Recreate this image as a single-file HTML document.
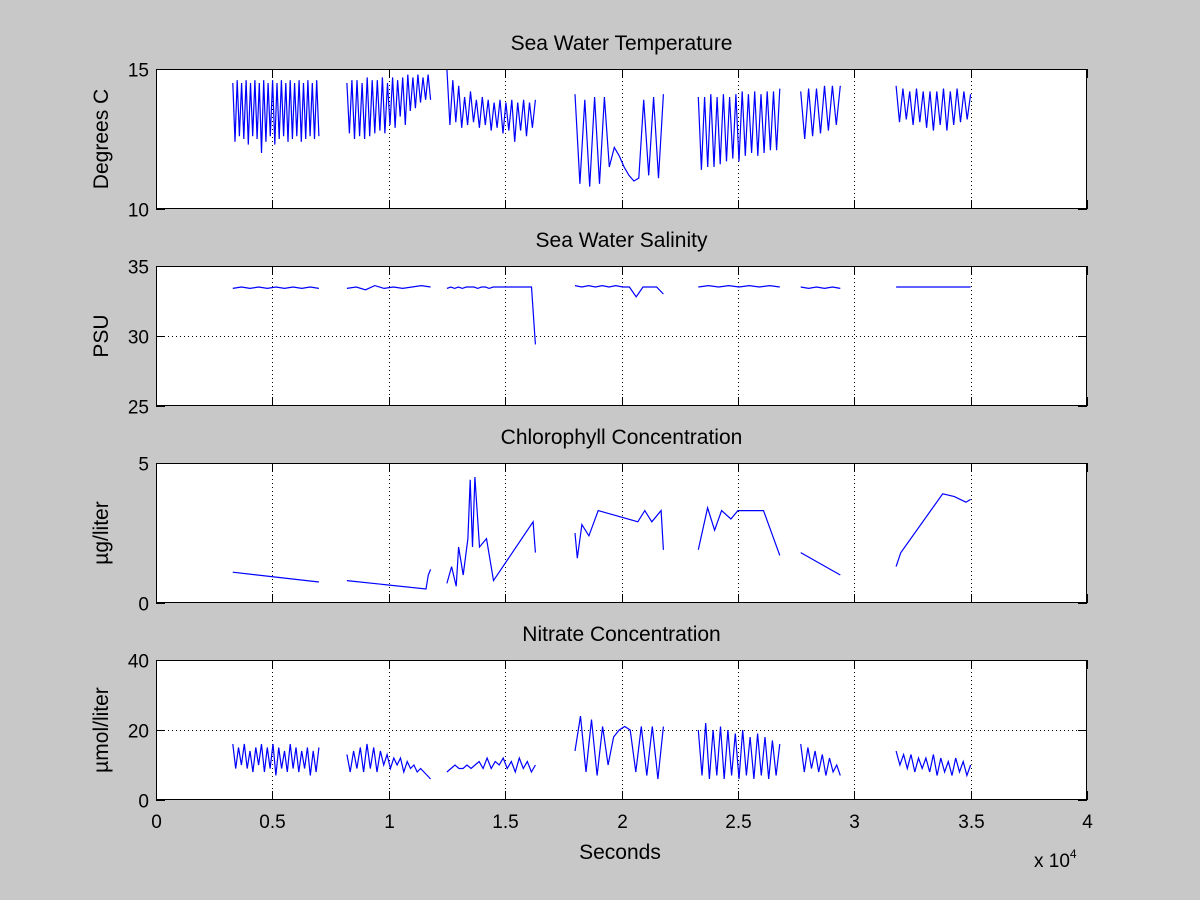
<!DOCTYPE html>
<html><head><meta charset="utf-8"><style>
html,body{margin:0;padding:0;background:#c8c8c8;}
svg{display:block;font-family:"Liberation Sans",sans-serif;}
</style></head><body>
<svg id="chart" width="1200" height="900"></svg>
<script>
const xTicks=[0,0.5,1,1.5,2,2.5,3,3.5,4];
const xTickLabels=["0","0.5","1","1.5","2","2.5","3","3.5","4"];
const titles=["Sea Water Temperature","Sea Water Salinity","Chlorophyll Concentration","Nitrate Concentration"];
const yLabels=["Degrees C","PSU","\u00b5g/liter","\u00b5mol/liter"];
const yMins=[10,25,0,0];
const yMaxs=[15,35,5,40];
const yTickSets=[[10,15],[25,30,35],[0,5],[0,20,40]];
const segStarts=[0.33,0.82,1.25,1.80,2.33,2.77,3.18];
const segEnds=[0.70,1.18,1.63,2.18,2.68,2.94,3.50];
const tempValues=[
[14.5,12.4,14.6,12.6,14.5,12.5,14.6,12.3,14.5,12.6,14.6,12.5,14.5,12.0,14.6,12.4,14.5,12.6,14.6,12.3,14.5,12.5,14.6,12.6,14.5,12.4,14.6,12.5,14.5,12.6,14.6,12.4,14.5,12.5,14.6,12.6,14.5,12.5,14.6,12.6],
[14.5,12.7,14.6,12.5,14.6,12.6,14.5,12.5,14.7,12.6,14.6,12.7,14.6,12.8,14.7,12.7,14.5,13.0,14.7,12.9,14.6,13.3,14.7,13.0,14.8,13.5,14.7,13.6,14.8,13.8,14.7,13.9,14.8,13.9],
[15.0,13.0,14.6,13.1,14.4,12.9,14.0,13.0,14.2,13.1,13.9,12.9,14.0,13.0,13.9,12.8,13.8,12.9,13.9,12.7,13.8,12.8,13.9,12.4,13.8,12.8,13.9,12.6,13.8,12.9,13.9],
[14.1,10.9,13.9,10.8,14.0,10.9,14.0,11.5,12.2,11.9,11.5,11.2,11.0,11.1,13.9,11.2,14.0,11.1,14.1],
[14.0,11.4,14.0,11.5,14.1,11.5,14.0,11.6,14.1,11.7,14.0,11.8,14.1,11.7,14.2,11.9,14.1,12.0,14.2,11.9,14.1,12.0,14.2,12.1,14.2,12.1,14.3],
[14.2,12.5,14.3,12.6,14.3,12.7,14.4,12.8,14.4,13.0,14.4],
[14.4,13.1,14.3,13.2,14.2,13.0,14.3,13.1,14.2,12.9,14.2,12.8,14.2,13.0,14.3,12.8,14.2,13.0,14.3,13.1,14.2,13.2,14.1]];
const salValues=[
[33.4,33.5,33.4,33.5,33.4,33.5,33.4,33.5,33.4,33.5,33.4],
[33.4,33.5,33.3,33.6,33.4,33.5,33.4,33.5,33.6,33.5],
[33.4,33.5,33.4,33.5,33.4,33.5,33.5,33.5,33.4,33.5,33.5,33.4,33.5,33.5,33.5,33.5,33.5,33.5,33.5,33.5,33.5,33.5,33.5,29.4],
[33.6,33.5,33.6,33.5,33.6,33.5,33.6,33.5,33.5,32.8,33.5,33.5,33.5,33.0],
[33.5,33.6,33.5,33.6,33.5,33.6,33.5,33.6,33.5],
[33.5,33.4,33.5,33.4,33.5,33.4],
[33.5,33.5,33.5,33.5,33.5,33.5]];
const chlTimes=[
[0.33,0.70],[0.82,1.16,1.17,1.18],
[1.25,1.27,1.29,1.30,1.32,1.34,1.35,1.36,1.37,1.39,1.42,1.45,1.62,1.63],
[1.80,1.81,1.83,1.86,1.90,2.07,2.10,2.13,2.17,2.18],
[2.33,2.37,2.40,2.43,2.47,2.50,2.61,2.68],[2.77,2.94],
[3.18,3.20,3.38,3.43,3.48,3.50]];
const chlValues=[
[1.1,0.75],[0.8,0.5,1.0,1.2],
[0.7,1.3,0.6,2.0,1.0,2.3,4.4,2.0,4.5,2.0,2.3,0.8,2.9,1.8],
[2.5,1.6,2.8,2.4,3.3,2.9,3.3,2.9,3.3,1.9],
[1.9,3.4,2.6,3.3,3.0,3.3,3.3,1.7],[1.8,1.0],
[1.3,1.8,3.9,3.8,3.6,3.7]];
const nitValues=[
[16,9,15,10,16,9,14,8,15,10,16,8,15,9,16,7,15,9,14,8,16,9,15,8,14,9,15,7,14,8,15],
[13,8,14,9,15,8,16,9,15,8,14,10,13,9,12,10,12,8,11,9,10,8,9,8,7,6],
[8,9,10,9,9,10,9,10,11,9,12,9,11,10,12,9,11,8,12,9,11,8,10],
[14,24,8,23,7,21,10,18,20,21,20,8,21,7,21,6,21],
[20,7,22,6,20,7,21,6,20,7,19,6,20,7,18,6,19,7,18,6,17,7,16],
[16,8,15,9,14,8,13,7,12,8,10,7],
[14,10,13,9,13,8,12,9,12,8,13,7,12,8,11,7,12,8,11,7,10]];

const NS="http://www.w3.org/2000/svg";
const svg=document.getElementById('chart');
const X0=156,X1=1087;
const panelTops=[69,266,463,660];
const PH=140;
function mk(tag,attrs,parent){const e=document.createElementNS(NS,tag);for(const k in attrs)e.setAttribute(k,attrs[k]);(parent||svg).appendChild(e);return e;}
function xs(v){return X0+(v-0)/(4-0)*(X1-X0);}
function panelSeries(p){
  if(p===0)return segStarts.map((s,i)=>{const v=tempValues[i];return v.map((y,j)=>[s+(segEnds[i]-s)*j/(v.length-1),y]);});
  if(p===1)return segStarts.map((s,i)=>{const v=salValues[i];return v.map((y,j)=>[s+(segEnds[i]-s)*j/(v.length-1),y]);});
  if(p===2)return chlTimes.map((t,i)=>t.map((tt,j)=>[tt,chlValues[i][j]]));
  return segStarts.map((s,i)=>{const v=nitValues[i];return v.map((y,j)=>[s+(segEnds[i]-s)*j/(v.length-1),y]);});
}
for(let p=0;p<4;p++){
  const top=panelTops[p],bot=top+PH;
  const ys=v=>bot-(v-yMins[p])/(yMaxs[p]-yMins[p])*PH;
  const g=mk('g',{});
  
  
  const r=mk('rect',{x:X0,y:top,width:X1-X0,height:PH,fill:'#fff',stroke:'none'},g);
  
  
  xTicks.forEach((t,i)=>{
    const x=Math.round(xs(t))+0.5;
    if(i>0&&i<xTicks.length-1){
      const gl=mk('line',{x1:x,x2:x,y1:top,y2:bot,stroke:'#000','stroke-width':1,'stroke-dasharray':'1,3'},g);
      
      
    }
    mk('line',{x1:x,x2:x,y1:bot,y2:bot-9,stroke:'#000'},g);
    mk('line',{x1:x,x2:x,y1:top,y2:top+9,stroke:'#000'},g);
    if(p===3){
      const tl=mk('text',{x:x,y:bot+28,'font-size':19,'text-anchor':'middle'},g);
      tl.textContent=xTickLabels[i];
      
      
    }
  });
  yTickSets[p].forEach((t,i)=>{
    const y=Math.round(ys(t))+0.5;
    if(t!==yMins[p]&&t!==yMaxs[p]){
      const gl=mk('line',{x1:X0,x2:X1,y1:y,y2:y,stroke:'#000','stroke-dasharray':'1,3'},g);
      
      
    }
    mk('line',{x1:X0,x2:X0+9,y1:y,y2:y,stroke:'#000'},g);
    mk('line',{x1:X1,x2:X1-9,y1:y,y2:y,stroke:'#000'},g);
    const tl=mk('text',{x:X0-7,y:y+7,'font-size':19,'text-anchor':'end'},g);
    tl.textContent=String(t);
    
    
  });
  panelSeries(p).forEach((seg,i)=>{
    const pl=mk('polyline',{points:seg.map(d=>xs(d[0]).toFixed(1)+','+ys(d[1]).toFixed(1)).join(' '),fill:'none',stroke:'#0000ff','stroke-width':1.2},g);
    
    
  });
  const fr=mk('rect',{x:X0+0.5,y:top+0.5,width:X1-X0-1,height:PH-1,fill:'none',stroke:'#000'},g);
  
  
  const tt=mk('text',{x:(X0+X1)/2,y:top-19,'font-size':21,'text-anchor':'middle'},g);
  tt.textContent=titles[p];
  
  
  const yl=mk('text',{x:0,y:0,'font-size':21,'text-anchor':'middle',transform:'translate(108,'+(top+PH/2)+') rotate(-90)'},g);
  yl.textContent=yLabels[p];
  
  
}
const xl=mk('text',{x:620,y:859,'font-size':21,'text-anchor':'middle'});
xl.textContent='Seconds';


const ex=mk('text',{x:1034,y:867,'font-size':19});
ex.innerHTML='x 10<tspan dy="-9" font-size="12">4</tspan>';


</script>
</body></html>
